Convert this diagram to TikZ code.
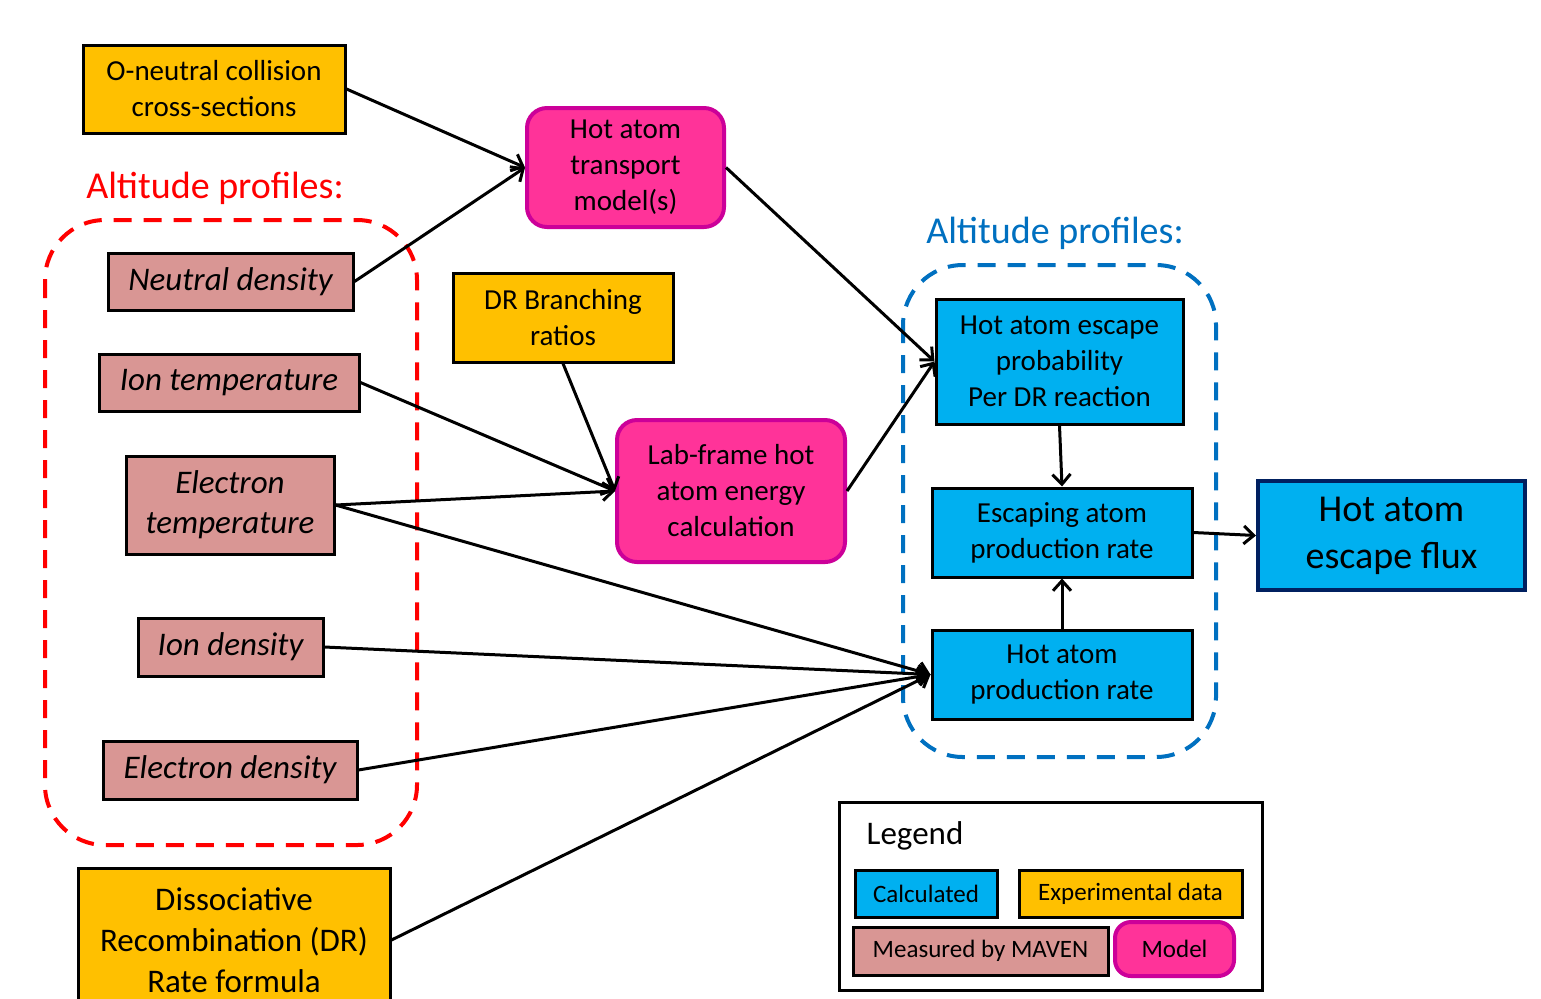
\documentclass[tikz,border=0pt]{standalone}
\usepackage{fontspec}
\setmainfont{Carlito}
\usepackage{xcolor}
\definecolor{expyellow}{RGB}{255, 192, 0}
\definecolor{mavenpink}{RGB}{217, 150, 148}
\definecolor{calcblue}{RGB}{0, 176, 240}
\definecolor{modelpink}{RGB}{255, 51, 153}
\definecolor{modelrim}{RGB}{204, 0, 153}
\definecolor{fluxnavy}{RGB}{0, 32, 96}
\definecolor{profilered}{RGB}{255, 0, 0}
\definecolor{profileblue}{RGB}{0, 112, 192}
\usepackage{tikz}
\usetikzlibrary{arrows.meta}

\begin{document}
\begin{tikzpicture}[x=0.5pt, y=-0.5pt, >={Straight Barb[length=5pt, width=9pt]},
    box/.style={draw=black, line width=1.5pt, inner sep=0pt, align=center, font=\fontsize{14.5}{18}\selectfont},
    expbox/.style={box, fill=expyellow},
    mavenbox/.style={box, fill=mavenpink, font=\fontsize{16.5}{20}\selectfont\itshape},
    calcbox/.style={box, fill=calcblue},
    modelbox/.style={box, draw=modelrim, line width=2pt, fill=modelpink, rounded corners=10pt},
    keybox/.style={box, font=\fontsize{12.5}{15}\selectfont},
    flow/.style={->, line width=1.5pt},
    region/.style={line width=2pt, dash pattern=on 9pt off 6pt, rounded corners=30pt}]
    \useasboundingbox (0, 0) rectangle (1541, 998);

    \draw[region, profilered] (45, 220) rectangle (417, 845);
    \draw[region, profileblue] (903, 265) rectangle (1216, 757);
    \node[text=profilered, font=\fontsize{19}{23}\selectfont] (redtitle) at (215, 188) {Altitude profiles:};
    \node[text=profileblue, font=\fontsize{19}{23}\selectfont] (bluetitle) at (1055, 233) {Altitude profiles:};

    \node[expbox, minimum width=131pt, minimum height=44pt] (coll) at (214, 89) {O-neutral collision\\cross-sections};
    \node[mavenbox, minimum width=122.5pt, minimum height=28.5pt] (neutral) at (230.5, 281.5) {Neutral density};
    \node[mavenbox, minimum width=130pt, minimum height=28.5pt] (iontemp) at (229, 382.5) {Ion temperature};
    \node[mavenbox, minimum width=104pt, minimum height=49pt] (etemp) at (230, 505) {Electron\\temperature};
    \node[mavenbox, minimum width=92.5pt, minimum height=29pt] (iondens) at (230.5, 647) {Ion density};
    \node[mavenbox, minimum width=127pt, minimum height=29pt] (edens) at (230, 770) {Electron density};
    \node[expbox, minimum width=156pt, minimum height=72pt, font=\fontsize{16.5}{20.5}\selectfont] (drrate) at (234, 940) {Dissociative\\Recombination (DR)\\Rate formula};

    \node[modelbox, minimum width=98.5pt, minimum height=59.5pt] (transport) at (625.5, 167.5) {Hot atom\\transport\\model(s)};
    \node[expbox, minimum width=110pt, minimum height=44.5pt] (branch) at (563, 317.5) {DR Branching\\ratios};
    \node[modelbox, minimum width=114pt, minimum height=71pt] (labframe) at (731, 491) {Lab-frame hot\\atom energy\\calculation};

    \node[calcbox, minimum width=123.5pt, minimum height=62.5pt] (escprob) at (1059.5, 361.5) {Hot atom escape\\probability\\Per DR reaction};
    \node[calcbox, minimum width=130pt, minimum height=44.5pt] (escaping) at (1062, 532.5) {Escaping atom\\production rate};
    \node[calcbox, minimum width=130pt, minimum height=44.5pt] (prodrate) at (1062, 674.5) {Hot atom\\production rate};
    \node[calcbox, draw=fluxnavy, line width=2pt, minimum width=133.5pt, minimum height=54.5pt, font=\fontsize{19}{23.5}\selectfont] (flux) at (1391.5, 535.5) {Hot atom\\escape flux};

    \draw[flow] (coll.east) -- (transport.west);
    \draw[flow] (neutral.east) -- (transport.west);
    \draw[flow] (transport.east) -- (escprob.west);
    \draw[flow] (branch.south) -- (labframe.west);
    \draw[flow] (iontemp.east) -- (labframe.west);
    \draw[flow] (etemp.east) -- (labframe.west);
    \draw[flow] (labframe.east) -- (escprob.west);
    \draw[flow] (etemp.east) -- (prodrate.west);
    \draw[flow] (iondens.east) -- (prodrate.west);
    \draw[flow] (edens.east) -- (prodrate.west);
    \draw[flow] (drrate.east) -- (prodrate.west);
    \draw[flow] (escprob.south) -- (escaping.north);
    \draw[flow] (prodrate.north) -- (escaping.south);
    \draw[flow] (escaping.east) -- (flux.west);

    \node[draw=black, line width=1.5pt, minimum width=211.5pt, minimum height=94pt, inner sep=0pt] (legend) at (1050.5, 896) {};
    \node[font=\fontsize{16.5}{20}\selectfont] (legendtitle) at (915, 836) {Legend};
    \node[keybox, fill=calcblue, minimum width=71pt, minimum height=23.5pt] (keycalc) at (926, 893.5) {Calculated};
    \node[keybox, fill=expyellow, minimum width=111.5pt, minimum height=23.5pt] (keyexp) at (1130.5, 893.5) {Experimental data};
    \node[keybox, fill=mavenpink, minimum width=127.5pt, minimum height=24pt] (keymaven) at (980.5, 951) {Measured by MAVEN};
    \node[keybox, draw=modelrim, line width=2pt, fill=modelpink, rounded corners=8pt, minimum width=59.5pt, minimum height=27pt] (keymodel) at (1174.5, 949) {Model};
\end{tikzpicture}
\end{document}
